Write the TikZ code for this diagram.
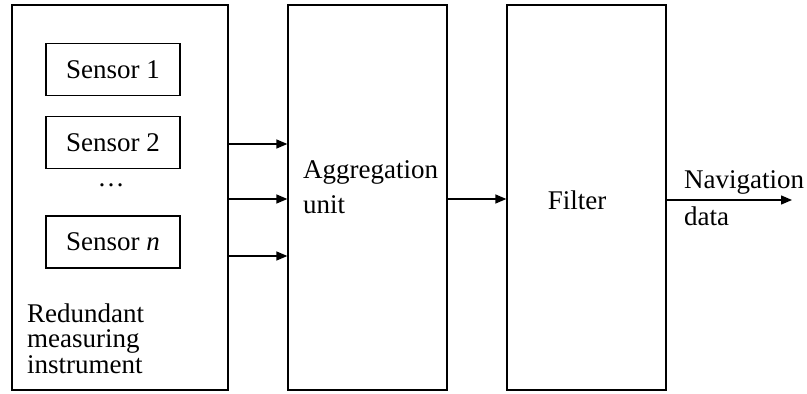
\documentclass[tikz,border=0pt]{standalone}
\usepackage{fontspec}
\setmainfont{Liberation Serif}
\usetikzlibrary{arrows.meta}
\begin{document}
\begin{tikzpicture}[x=1pt,y=-1pt,
  every node/.style={font=\fontsize{27}{30}\selectfont},
  blockbox/.style={draw,line width=1.3pt,inner sep=0pt,minimum width=159pt,minimum height=385pt},
  sensorbox/.style={draw,line width=1.3pt,inner sep=0pt,minimum width=134pt,minimum height=52pt},
  flow/.style={line width=1.3pt,-{Triangle[length=11pt,width=9pt]}}]
\useasboundingbox (0,0) rectangle (807,394);
% redundant measuring instrument with its sensors
\node[draw,line width=1.3pt,inner sep=0pt,minimum width=216pt,minimum height=385pt] (red) at (120,197.5) {};
\node[sensorbox] (s1) at (113,69.5) {Sensor 1};
\node[sensorbox] (s2) at (113,142.5) {Sensor 2};
\node (dots) at (111,185) {\dots};
\node[sensorbox] (sn) at (113,242) {Sensor \textit{n}};
% multi-line labels: base west sits on the baseline of the last line
\node[align=left,anchor=base west,inner sep=0pt,
  font=\fontsize{27}{25.5}\selectfont] (redlbl) at (27,373) {Redundant\\measuring\\instrument};
% aggregation unit and filter
\node[blockbox] (agg) at (367.5,197.5) {};
\node[align=left,anchor=base west,inner sep=0pt,
  font=\fontsize{27}{35}\selectfont] (agglbl) at (303,213) {Aggregation\\unit};
\node[blockbox] (flt) at (586.5,197.5) {};
\node[inner sep=0pt] (fltlbl) at (577,200) {Filter};
% connectors
\coordinate (a1) at (228,144);
\coordinate (a2) at (228,199);
\coordinate (a3) at (228,256);
\draw[flow] (red.east |- a1) -- (agg.west |- a1);
\draw[flow] (red.east |- a2) -- (agg.west |- a2);
\draw[flow] (red.east |- a3) -- (agg.west |- a3);
\coordinate (b1) at (447,199);
\draw[flow] (agg.east |- b1) -- (flt.west |- b1);
\coordinate (out) at (792,200);
\draw[flow] (flt.east |- out) -- (out);
\node[align=left,anchor=base west,inner sep=0pt,
  font=\fontsize{27}{37}\selectfont] (navlbl) at (684,225) {Navigation\\data};
\end{tikzpicture}
\end{document}
